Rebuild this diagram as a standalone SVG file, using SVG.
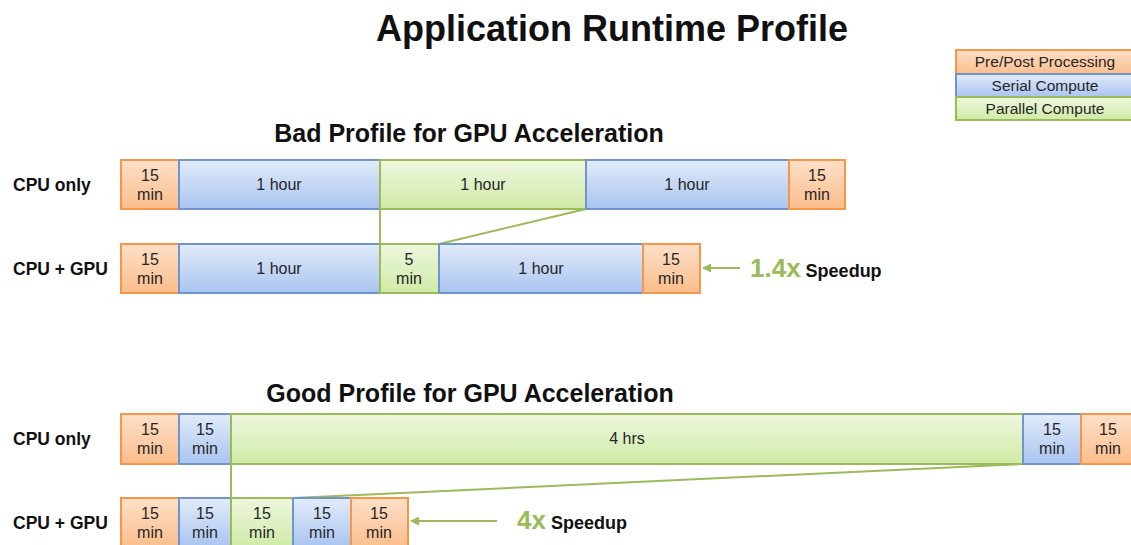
<svg xmlns="http://www.w3.org/2000/svg" width="1131" height="545" viewBox="0 0 1131 545">
<defs>
<linearGradient id="gO" x1="0" y1="0" x2="0" y2="1"><stop offset="0" stop-color="#fde0c8"/><stop offset="1" stop-color="#fbbd8c"/></linearGradient>
<linearGradient id="gB" x1="0" y1="0" x2="0" y2="1"><stop offset="0" stop-color="#e2ebfa"/><stop offset="1" stop-color="#a9c4f0"/></linearGradient>
<linearGradient id="gG" x1="0" y1="0" x2="0" y2="1"><stop offset="0" stop-color="#eef7df"/><stop offset="1" stop-color="#d0eaa6"/></linearGradient>
<marker id="arr" viewBox="0 0 10 10" refX="9" refY="5" markerWidth="9" markerHeight="9" orient="auto" markerUnits="userSpaceOnUse"><path d="M0,0 L10,5 L0,10 z" fill="#9bbb59"/></marker>
</defs>
<style>
.o{fill:url(#gO);stroke:#f79646;stroke-width:2}
.b{fill:url(#gB);stroke:#6f95cc;stroke-width:2}
.g{fill:url(#gG);stroke:#9bbb59;stroke-width:2}
.t{font-family:"Liberation Sans",Arial,sans-serif;font-size:16px;fill:#262626;text-anchor:middle}
.lbl{font-family:"Liberation Sans",Arial,sans-serif;font-size:17.5px;font-weight:bold;fill:#111}
.h1{font-family:"Liberation Sans",Arial,sans-serif;font-size:36px;font-weight:bold;fill:#111;text-anchor:middle}
.h2{font-family:"Liberation Sans",Arial,sans-serif;font-size:25px;font-weight:bold;fill:#111;text-anchor:middle}
.lg{font-family:"Liberation Sans",Arial,sans-serif;font-size:15.5px;fill:#262626;text-anchor:middle}
.sp{font-family:"Liberation Sans",Arial,sans-serif;font-weight:bold}
.con{stroke:#9bbb59;stroke-width:2;fill:none}
</style>
<rect width="1131" height="545" fill="#ffffff"/>
<text class="h1" x="612" y="41">Application Runtime Profile</text>
<text class="h2" x="469" y="142">Bad Profile for GPU Acceleration</text>
<text class="h2" x="470" y="402">Good Profile for GPU Acceleration</text>

<g id="legend">
<rect class="o" x="956" y="50" width="176" height="24"/>
<text class="lg" x="1045" y="67">Pre/Post Processing</text>
<rect class="b" x="956" y="74" width="176" height="23"/>
<text class="lg" x="1045" y="91">Serial Compute</text>
<rect class="g" x="956" y="97" width="176" height="23"/>
<text class="lg" x="1045" y="114">Parallel Compute</text>
</g>

<g id="labels">
<text class="lbl" x="13" y="191">CPU only</text>
<text class="lbl" x="13" y="275">CPU + GPU</text>
<text class="lbl" x="13" y="445">CPU only</text>
<text class="lbl" x="13" y="529">CPU + GPU</text>
</g>

<g id="connectors">
<line class="con" x1="380" y1="209" x2="380" y2="244"/>
<line class="con" x1="586" y1="209" x2="439" y2="244"/>
<line class="con" x1="231" y1="464" x2="231" y2="498"/>
<line class="con" x1="1023" y1="464" x2="293" y2="498"/>
<line class="con" x1="740" y1="268" x2="703" y2="268" marker-end="url(#arr)"/>
<line class="con" x1="497" y1="521" x2="411" y2="521" marker-end="url(#arr)"/>
</g>

<g id="bad-cpu">
<rect class="o" x="121" y="160" width="58" height="49"/><text class="t" x="150" y="181">15</text><text class="t" x="150" y="200">min</text>
<rect class="b" x="179" y="160" width="201" height="49"/><text class="t" x="279" y="190">1 hour</text>
<rect class="g" x="380" y="160" width="206" height="49"/><text class="t" x="483" y="190">1 hour</text>
<rect class="b" x="586" y="160" width="203" height="49"/><text class="t" x="687" y="190">1 hour</text>
<rect class="o" x="789" y="160" width="56" height="49"/><text class="t" x="817" y="181">15</text><text class="t" x="817" y="200">min</text>
</g>
<g id="bad-gpu">
<rect class="o" x="121" y="244" width="58" height="49"/><text class="t" x="150" y="265">15</text><text class="t" x="150" y="284">min</text>
<rect class="b" x="179" y="244" width="201" height="49"/><text class="t" x="279" y="274">1 hour</text>
<rect class="g" x="380" y="244" width="59" height="49"/><text class="t" x="409" y="265">5</text><text class="t" x="409" y="284">min</text>
<rect class="b" x="439" y="244" width="204" height="49"/><text class="t" x="541" y="274">1 hour</text>
<rect class="o" x="643" y="244" width="57" height="49"/><text class="t" x="671" y="265">15</text><text class="t" x="671" y="284">min</text>
</g>
<g id="bad-speedup">
<text class="sp" x="750" y="277"><tspan font-size="26" fill="#9bbb59">1.4x</tspan><tspan font-size="18" fill="#111"> Speedup</tspan></text>
</g>

<g id="good-cpu">
<rect class="o" x="121" y="414" width="58" height="50"/><text class="t" x="150" y="435">15</text><text class="t" x="150" y="454">min</text>
<rect class="b" x="179" y="414" width="52" height="50"/><text class="t" x="205" y="435">15</text><text class="t" x="205" y="454">min</text>
<rect class="g" x="231" y="414" width="792" height="50"/><text class="t" x="627" y="444">4 hrs</text>
<rect class="b" x="1023" y="414" width="58" height="50"/><text class="t" x="1052" y="435">15</text><text class="t" x="1052" y="454">min</text>
<rect class="o" x="1081" y="414" width="56" height="50"/><text class="t" x="1108" y="435">15</text><text class="t" x="1108" y="454">min</text>
</g>
<g id="good-gpu">
<rect class="o" x="121" y="498" width="58" height="50"/><text class="t" x="150" y="519">15</text><text class="t" x="150" y="538">min</text>
<rect class="b" x="179" y="498" width="52" height="50"/><text class="t" x="205" y="519">15</text><text class="t" x="205" y="538">min</text>
<rect class="g" x="231" y="498" width="62" height="50"/><text class="t" x="262" y="519">15</text><text class="t" x="262" y="538">min</text>
<rect class="b" x="293" y="498" width="58" height="50"/><text class="t" x="322" y="519">15</text><text class="t" x="322" y="538">min</text>
<rect class="o" x="351" y="498" width="57" height="50"/><text class="t" x="379" y="519">15</text><text class="t" x="379" y="538">min</text>
</g>
<g id="good-speedup">
<text class="sp" x="517" y="529"><tspan font-size="26" fill="#9bbb59">4x</tspan><tspan font-size="18" fill="#111"> Speedup</tspan></text>
</g>
</svg>
